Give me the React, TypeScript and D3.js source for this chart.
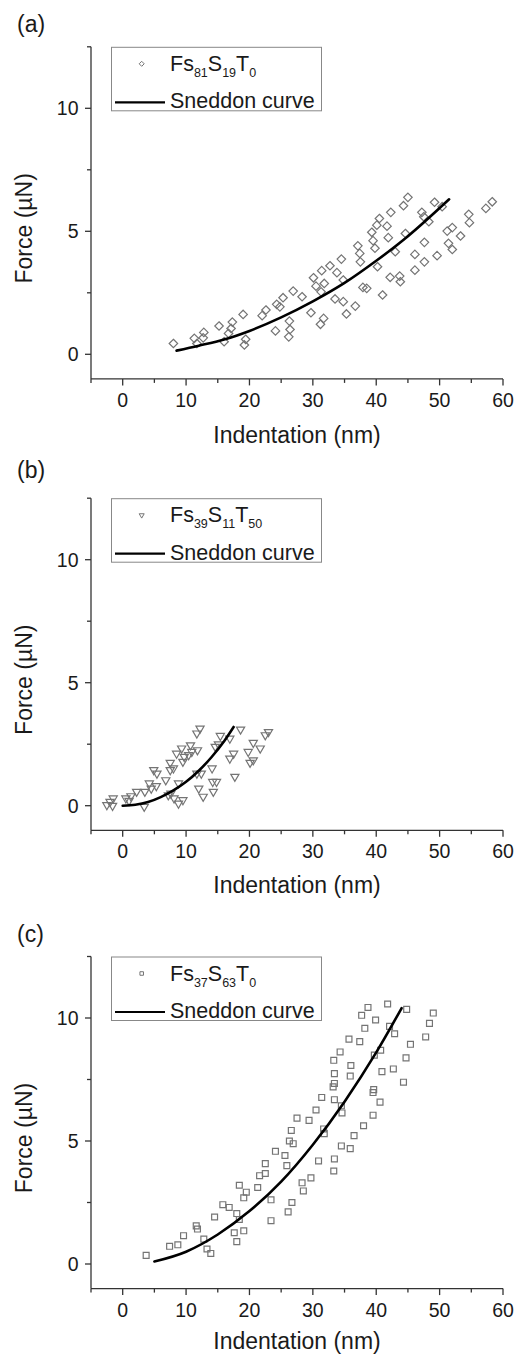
import React from "react";
import * as d3 from "d3";

// ---- data ----

// (a) Fs81S19T0
const A_X = [8.0, 11.3, 11.7, 12.7, 12.8, 15.2, 16.0, 16.7, 17.1, 17.3, 19.0, 19.2, 19.4, 22.0, 22.6, 24.1, 24.3, 24.8, 25.3, 26.2, 26.4, 26.3, 26.9, 28.3, 29.7, 30.1, 30.5, 31.3, 31.2, 31.7, 31.4, 31.8, 32.7, 33.8, 33.5, 34.5, 34.8, 34.8, 35.3, 36.7, 37.1, 37.4, 37.5, 37.9, 38.5, 39.3, 39.5, 39.8, 40.1, 40.5, 40.2, 41.0, 41.7, 41.9, 42.3, 42.2, 43.0, 43.7, 43.8, 44.3, 45.0, 44.6, 46.1, 46.1, 47.2, 47.5, 47.6, 47.6, 48.3, 49.2, 49.6, 50.4, 51.2, 51.4, 52.0, 52.0, 53.3, 54.6, 54.7, 57.3, 58.3];
const A_Y = [0.44, 0.65, 0.44, 0.67, 0.89, 1.15, 0.51, 0.85, 1.05, 1.31, 1.62, 0.38, 0.61, 1.57, 1.8, 0.95, 2.03, 1.93, 2.3, 0.71, 1.01, 1.35, 2.57, 2.34, 1.69, 3.11, 2.77, 2.54, 1.22, 1.46, 3.4, 2.88, 3.6, 3.32, 2.25, 3.87, 3.02, 2.14, 1.64, 1.96, 4.41, 4.1, 3.76, 2.72, 2.68, 4.96, 4.62, 4.31, 5.25, 5.52, 3.56, 2.41, 5.21, 4.74, 5.77, 3.13, 4.17, 3.18, 2.95, 6.04, 6.38, 4.91, 4.06, 3.42, 5.77, 5.59, 4.55, 3.76, 5.39, 6.18, 4.01, 6.0, 5.01, 4.51, 5.15, 4.26, 4.81, 5.69, 5.35, 5.93, 6.2];
const A_FIT_X = [8.5, 12, 16, 20, 25, 30, 35, 40, 45, 51.5];
const A_FIT_Y = [0.15, 0.35, 0.6, 0.95, 1.5, 2.15, 2.9, 3.8, 4.8, 6.3];

// (b) Fs39S11T50
const B_X = [-2.5, -2.0, -1.5, -1.6, 0.5, 1.0, 1.3, 2.2, 3.4, 3.5, 4.2, 4.5, 4.9, 5.3, 5.4, 6.8, 7.2, 7.5, 7.5, 7.6, 8.1, 8.0, 8.5, 8.8, 8.8, 9.3, 9.5, 9.5, 9.7, 10.4, 10.9, 10.7, 11.7, 11.8, 12.0, 11.7, 12.2, 12.4, 12.7, 14.1, 14.3, 14.2, 14.6, 14.8, 15.1, 15.4, 16.9, 16.9, 17.5, 17.7, 18.6, 19.8, 20.1, 20.6, 20.6, 21.7, 22.5, 23.0];
const B_Y = [0.03, 0.16, 0.3, 0.0, 0.3, 0.2, 0.39, 0.57, -0.04, 0.57, 0.91, 0.7, 1.45, 0.8, 1.31, 1.04, 0.43, 1.75, 1.45, 0.5, 0.3, 1.52, 2.12, 0.91, 0.09, 2.33, 0.23, 1.79, 1.99, 2.06, 2.19, 2.46, 1.31, 2.26, 0.7, 2.94, 3.14, 1.31, 0.37, 1.52, 0.57, 0.97, 2.4, 0.97, 2.5, 2.84, 2.73, 1.92, 2.12, 1.18, 3.1, 2.19, 1.75, 2.56, 1.85, 2.33, 2.87, 3.0];
const B_FIT_X = [0, 2, 4, 6, 8, 10, 12, 14, 16, 17.5];
const B_FIT_Y = [0, 0.04, 0.15, 0.35, 0.62, 0.97, 1.42, 1.97, 2.62, 3.2];

// (c) Fs37S63T0
const C_X = [3.7, 7.4, 8.7, 9.6, 11.6, 11.8, 12.8, 13.3, 13.9, 14.5, 15.8, 16.8, 17.6, 18.0, 18.0, 18.4, 18.4, 19.1, 19.5, 19.1, 21.3, 21.6, 22.5, 22.5, 23.4, 23.4, 24.1, 25.6, 25.9, 26.1, 26.3, 26.6, 26.9, 26.7, 27.5, 28.3, 28.5, 29.4, 29.7, 30.5, 30.9, 31.4, 31.7, 31.8, 33.2, 33.3, 33.4, 33.4, 33.4, 33.3, 33.4, 34.3, 34.5, 34.6, 34.5, 35.7, 36.0, 35.9, 35.9, 36.5, 37.4, 37.7, 38.0, 38.2, 38.7, 39.5, 39.6, 39.5, 39.7, 39.9, 40.6, 40.7, 40.9, 41.8, 42.1, 42.7, 42.9, 44.3, 44.7, 44.8, 45.4, 47.8, 48.4, 49.0];
const C_Y = [0.35, 0.72, 0.78, 1.15, 1.55, 1.42, 1.01, 0.61, 0.43, 1.91, 2.41, 2.3, 1.27, 2.05, 0.91, 1.81, 3.2, 2.69, 2.92, 1.35, 3.11, 3.59, 3.68, 4.08, 2.61, 1.76, 4.58, 4.41, 4.0, 2.12, 5.0, 5.43, 4.89, 2.5, 5.93, 3.3, 2.97, 5.84, 3.5, 6.26, 4.19, 6.77, 5.49, 5.3, 7.2, 8.28, 7.74, 7.34, 6.68, 3.78, 4.27, 8.62, 6.43, 6.14, 4.8, 9.14, 8.07, 7.64, 4.69, 5.22, 9.04, 10.11, 5.62, 9.58, 10.43, 6.97, 7.09, 6.05, 8.49, 9.92, 6.58, 8.69, 7.82, 10.57, 9.66, 7.93, 9.36, 7.39, 8.38, 10.35, 8.93, 9.23, 9.78, 10.2];
const C_FIT_X = [5, 10, 15, 20, 25, 30, 35, 40, 44];
const C_FIT_Y = [0.1, 0.5, 1.2, 2.15, 3.35, 4.85, 6.6, 8.6, 10.4];

const X_TICKS = [0, 10, 20, 30, 40, 50, 60];
const X_MINOR = [-5, 5, 15, 25, 35, 45, 55];
const Y_TICKS = [0, 5, 10];
const Y_MINOR = [2.5, 7.5, 12.5];

const FONT = "'Liberation Sans', Arial, Helvetica, sans-serif";
const MARK = "#747474";
const INK = "#1a1a1a";

const PANELS = [
  { tag: "(a)", top: 46.8, tagY: 32, titleDy: 64, sub: ["81", "19", "0"], kind: "diamond", xs: A_X, ys: A_Y, fx: A_FIT_X, fy: A_FIT_Y },
  { tag: "(b)", top: 498.2, tagY: 478, titleDy: 63, sub: ["39", "11", "50"], kind: "triangle", xs: B_X, ys: B_Y, fx: B_FIT_X, fy: B_FIT_Y },
  { tag: "(c)", top: 956.5, tagY: 942, titleDy: 60, sub: ["37", "63", "0"], kind: "square", xs: C_X, ys: C_Y, fx: C_FIT_X, fy: C_FIT_Y },
];

const symbolPath = (kind: string, big: boolean) => {
  if (kind === "diamond") return d3.symbol(d3.symbolDiamond2, big ? 46 : 16)()!;
  if (kind === "triangle") return d3.symbol(d3.symbolTriangle2, big ? 48 : 18)()!;
  return d3.symbol(d3.symbolSquare2, big ? 44 : 16)()!;
};

const Panel = ({ p }: { p: typeof PANELS[number] }) => {
  const x = d3.scaleLinear().domain([-5, 60]).range([91, 503]);
  const H = 24.6 * 13.5;
  const y = d3.scaleLinear().domain([-1, 12.5]).range([p.top + H, p.top]);
  const x0 = x(-5);
  const yb = y(-1);

  const line = d3
    .line<number>()
    .x((_, i) => x(p.fx[i]))
    .y((d) => y(d))
    .curve(d3.curveMonotoneX);

  const sym = symbolPath(p.kind, true);
  const legSym = symbolPath(p.kind, false);
  const rot = p.kind === "triangle" ? " rotate(180)" : "";

  const lx = 111.5;
  const ly = p.top + 0.5;

  return (
    <g>
      <text x={17} y={p.tagY} fontSize={23} fontFamily={FONT} fill={INK}>
        {p.tag}
      </text>

      {/* axes */}
      <line x1={x0} x2={x(60)} y1={yb} y2={yb} stroke="#333" strokeWidth={1.3} />
      <line x1={x0} x2={x0} y1={y(12.5)} y2={yb} stroke="#333" strokeWidth={1.3} />
      {X_TICKS.map((t) => (
        <g key={"xt" + t}>
          <line x1={x(t)} x2={x(t)} y1={yb} y2={yb + 6.5} stroke="#333" strokeWidth={1.3} />
          <text x={x(t)} y={yb + 28} fontSize={19.5} fontFamily={FONT} textAnchor="middle" fill={INK}>
            {t}
          </text>
        </g>
      ))}
      {X_MINOR.map((t) => (
        <line key={"xm" + t} x1={x(t)} x2={x(t)} y1={yb} y2={yb + 4} stroke="#333" strokeWidth={1.3} />
      ))}
      {Y_TICKS.map((t) => (
        <g key={"yt" + t}>
          <line x1={x0 - 6} x2={x0} y1={y(t)} y2={y(t)} stroke="#333" strokeWidth={1.3} />
          <text x={x0 - 12.5} y={y(t) + 7} fontSize={19.5} fontFamily={FONT} textAnchor="end" fill={INK}>
            {t}
          </text>
        </g>
      ))}
      {Y_MINOR.map((t) => (
        <line key={"ym" + t} x1={x0 - 4} x2={x0} y1={y(t)} y2={y(t)} stroke="#333" strokeWidth={1.3} />
      ))}

      <text x={(x0 + x(60)) / 2} y={yb + p.titleDy} fontSize={23} fontFamily={FONT} textAnchor="middle" fill={INK}>
        Indentation (nm)
      </text>
      <text
        transform={`translate(32,${y(0) - 126}) rotate(-90)`}
        fontSize={23}
        fontFamily={FONT}
        textAnchor="middle"
        fill={INK}
      >
        Force (µN)
      </text>

      {/* data */}
      {p.xs.map((v, i) => (
        <path
          key={"pt" + i}
          d={sym}
          transform={`translate(${x(v)},${y(p.ys[i])})${rot}`}
          fill="none"
          stroke={MARK}
          strokeWidth={1.2}
        />
      ))}
      <path d={line(p.fy) || ""} fill="none" stroke="#000" strokeWidth={2.6} strokeLinecap="round" />

      {/* legend */}
      <rect x={lx} y={ly} width={210} height={63.5} fill="#fff" stroke="#888" strokeWidth={1} />
      <path d={legSym} transform={`translate(141.7,${p.top + 17})${rot}`} fill="none" stroke={MARK} strokeWidth={1} />
      <text x={170} y={p.top + 24} fontSize={21.5} fontFamily={FONT} fill={INK}>
        Fs
        <tspan fontSize={12.5} dy={6}>{p.sub[0]}</tspan>
        <tspan dy={-6}>S</tspan>
        <tspan fontSize={12.5} dy={6}>{p.sub[1]}</tspan>
        <tspan dy={-6}>T</tspan>
        <tspan fontSize={12.5} dy={6}>{p.sub[2]}</tspan>
      </text>
      <line x1={115} x2={165} y1={p.top + 55.5} y2={p.top + 55.5} stroke="#000" strokeWidth={2.2} />
      <text x={170} y={p.top + 61.5} fontSize={21.5} fontFamily={FONT} fill={INK}>
        Sneddon curve
      </text>
    </g>
  );
};

export default function App() {
  return (
    <div style={{ position: "absolute", left: 0, top: 0 }}>
      <svg width={517} height={1354} style={{ display: "block", background: "#fff" }}>
        {PANELS.map((p) => (
          <Panel key={p.tag} p={p} />
        ))}
      </svg>
    </div>
  );
}
